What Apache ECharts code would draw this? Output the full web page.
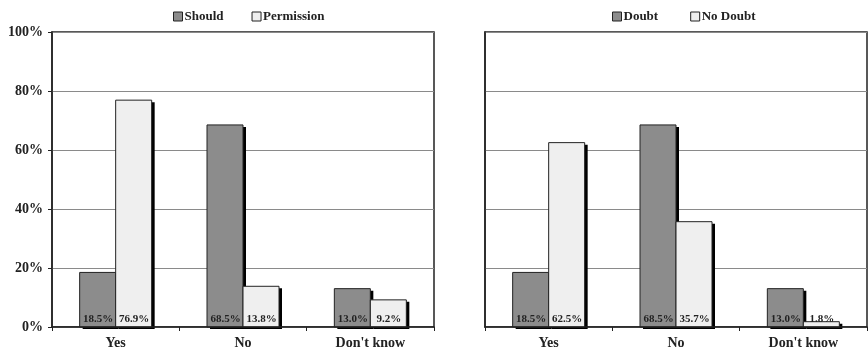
<!DOCTYPE html>
<html>
<head>
<meta charset="utf-8">
<script src="https://cdn.jsdelivr.net/npm/echarts@6/dist/echarts.min.js"></script>
<style>
html,body{margin:0;padding:0;background:#fff;}
#chart{width:868px;height:355px;}
</style>
</head>
<body>
<div id="chart"></div>
<script>
var categories = ["Yes", "No", "Don't know"];
var shouldVals = [18.5, 68.5, 13.0];
var permissionVals = [76.9, 13.8, 9.2];
var doubtVals = [18.5, 68.5, 13.0];
var noDoubtVals = [62.5, 35.7, 1.8];
var yTicks = [0, 20, 40, 60, 80, 100];

var FONT = "'Liberation Serif', 'Times New Roman', serif";
var DARK = '#8c8c8c';
var LIGHT = '#efefef';
var BAR_W = 36;

function barSeries(name, vals, color, idx, side) {
  return {
    name: name,
    type: 'custom',
    xAxisIndex: idx,
    yAxisIndex: idx,
    data: vals.map(function (v, i) { return [i, v]; }),
    encode: { x: 0, y: 1 },
    itemStyle: { color: color, borderColor: '#222', borderWidth: 1 },
    renderItem: function (params, api) {
      var cat = api.value(0), val = api.value(1);
      var base = api.coord([cat, 0]);
      var top = api.coord([cat, val]);
      var x = side < 0 ? base[0] - BAR_W : base[0];
      var h = base[1] - top[1];
      return {
        type: 'group',
        children: [
          { type: 'rect', shape: { x: x + 3, y: top[1] + 2, width: BAR_W, height: h },
            style: { fill: '#000' } },
          { type: 'rect', shape: { x: x, y: top[1], width: BAR_W, height: h },
            style: { fill: color, stroke: '#222', lineWidth: 1 } },
          { type: 'text', x: x + BAR_W / 2 + 0.5, y: base[1] - 2,
            style: { text: val.toFixed(1) + '%', fill: '#222', font: 'bold 11px ' + FONT,
                     align: 'center', verticalAlign: 'bottom' } }
        ]
      };
    }
  };
}

function xAx(idx) {
  return {
    type: 'category',
    gridIndex: idx,
    data: categories,
    axisLine: { lineStyle: { color: '#222', width: 1.5 } },
    axisTick: { show: true, length: 4, lineStyle: { color: '#222' } },
    axisLabel: { fontFamily: FONT, fontWeight: 'bold', fontSize: 14, color: '#222', margin: 9 },
    z: 5
  };
}

function yAx(idx, showLabels) {
  return {
    type: 'value',
    gridIndex: idx,
    min: yTicks[0],
    max: yTicks[yTicks.length - 1],
    interval: 20,
    axisLine: { show: true, lineStyle: { color: '#222', width: 1.5 } },
    axisTick: { show: showLabels, length: 4, lineStyle: { color: '#222' } },
    axisLabel: {
      show: showLabels,
      fontFamily: FONT, fontWeight: 'bold', fontSize: 14, color: '#222', margin: 9,
      formatter: '{value}%'
    },
    splitLine: { show: true, lineStyle: { color: '#8a8a8a', width: 1 } }
  };
}

var legendCommon = {
  itemWidth: 9, itemHeight: 9,
  icon: 'rect',
  itemStyle: { borderColor: '#222', borderWidth: 1 },
  textStyle: { fontFamily: FONT, fontWeight: 'bold', fontSize: 13, color: '#222', padding: [0, 0, 0, -3] }
};

var chart = echarts.init(document.getElementById('chart'), null, { renderer: 'canvas' });
chart.setOption({
  animation: false,
  backgroundColor: '#fff',
  grid: [
    { left: 52, right: 434, top: 32, bottom: 28, show: true, borderColor: '#222', borderWidth: 1.5, backgroundColor: '#fff' },
    { left: 485, right: 1, top: 32, bottom: 28, show: true, borderColor: '#222', borderWidth: 1.5, backgroundColor: '#fff' }
  ],
  legend: [
    Object.assign({ data: ['Should', 'Permission'], left: 168, top: 5, itemGap: 28 }, legendCommon),
    Object.assign({ data: ['Doubt', 'No Doubt'], left: 607, top: 5, itemGap: 32 }, legendCommon)
  ],
  xAxis: [xAx(0), xAx(1)],
  yAxis: [yAx(0, true), yAx(1, false)],
  series: [
    barSeries('Should', shouldVals, DARK, 0, -1),
    barSeries('Permission', permissionVals, LIGHT, 0, 1),
    barSeries('Doubt', doubtVals, DARK, 1, -1),
    barSeries('No Doubt', noDoubtVals, LIGHT, 1, 1)
  ]
});
</script>
</body>
</html>
